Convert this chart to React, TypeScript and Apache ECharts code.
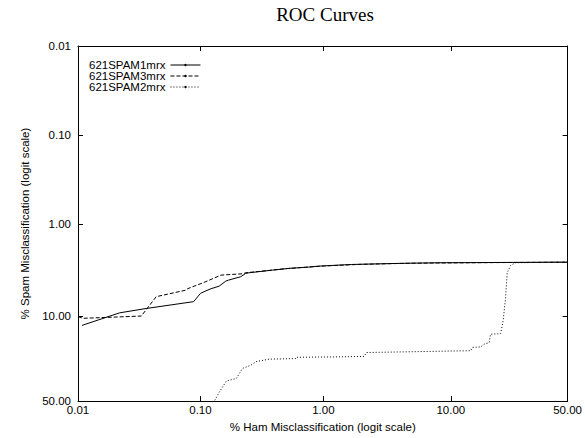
import React, { useEffect, useRef } from "react";
import * as echarts from "echarts";

const chartTitle = "ROC Curves";
const xAxisName = "% Ham Misclassification (logit scale)";
const yAxisName = "% Spam Misclassification (logit scale)";
const tickValues = [0.01, 0.1, 1, 10, 50];
const axisMinPct = 0.01;
const axisMaxPct = 50;
const seriesNames = ["621SPAM1mrx", "621SPAM3mrx", "621SPAM2mrx"];

// [% ham misclassification, % spam misclassification]
const spam1 = [
  [0.0108, 12.3], [0.0219, 9.2], [0.0361, 8.3], [0.0879, 7.05], [0.1, 5.77],
  [0.107, 5.53], [0.122, 5.14], [0.142, 4.83], [0.161, 4.26], [0.169, 4.16],
  [0.213, 3.82], [0.234, 3.52], [0.249, 3.46], [0.385, 3.24], [0.526, 3.1],
  [0.76, 3.0], [0.91, 2.93], [1.68, 2.81], [3.72, 2.74], [8.0, 2.69], [50, 2.65],
];
const spam3 = [
  [0.01, 10.06], [0.011, 10.46], [0.0329, 9.92], [0.0435, 6.25], [0.0763, 5.32],
  [0.0786, 5.14], [0.107, 4.4], [0.147, 3.67], [0.22, 3.55], [0.234, 3.46],
  [0.3, 3.35], [0.5, 3.12], [1.0, 2.92], [2.0, 2.8], [5.0, 2.72], [20, 2.68], [50, 2.65],
];
const spam2 = [
  [0.131, 49.5], [0.142, 44.4], [0.163, 37.2], [0.196, 35.8], [0.22, 30.0],
  [0.257, 28.3], [0.285, 26.4], [0.362, 25.2], [0.596, 24.9], [0.6, 24.3],
  [1.32, 24.1], [2.13, 23.9], [2.22, 22.1], [13.9, 21.3], [14.3, 19.9],
  [16.3, 19.7], [17.2, 18.6], [18.6, 18.0], [19.0, 15.0], [22.1, 14.8],
  [22.9, 11.1], [23.7, 6.67], [24.3, 3.46], [25.5, 2.88], [27.3, 2.69],
  [45, 2.65], [50, 2.65],
];

const logit = (p: number) => Math.log(p / (100 - p));
const unlogit = (v: number) => 100 / (1 + Math.exp(-v));

const FONT = "Liberation Sans, Arial, Helvetica, sans-serif";
const FS = 11.5;

export default function App() {
  const ref = useRef<HTMLDivElement>(null);
  useEffect(() => {
    if (!ref.current) return;
    const chart = echarts.init(ref.current, undefined, { renderer: "svg" });
    const ticks = tickValues.map(logit);
    const minV = logit(axisMinPct);
    const maxV = logit(axisMaxPct);
    const axisLineStyle = { show: true, onZero: false, lineStyle: { color: "#000", width: 1 } };
    const baseAxis = {
      type: "value" as const,
      min: minV,
      max: maxV,
      splitLine: { show: false },
      axisLine: axisLineStyle,
      axisTick: { show: true, inside: true, length: 5, customValues: ticks, lineStyle: { color: "#000" } },
    };
    const toData = (arr: number[][]) => arr.map(([x, y]) => [logit(x), logit(y)]);
    const mkSeries = (name: string, arr: number[][], type: any) => ({
      name,
      type: "line",
      data: toData(arr),
      xAxisIndex: 0,
      yAxisIndex: 0,
      symbol: "circle",
      symbolSize: 1.5,
      showSymbol: false,
      lineStyle: { color: "#000", width: 1, type },
      itemStyle: { color: "#000" },
      clip: true,
    });
    chart.setOption({
      animation: false,
      title: {
        text: chartTitle,
        left: 320,
        textAlign: "center",
        top: 0,
        textStyle: { fontFamily: "Liberation Serif, Times New Roman, serif", fontSize: 19, fontWeight: "normal", color: "#000" },
      },
      grid: { left: 78, right: 14, top: 46, bottom: 36 },
      legend: {
        orient: "vertical",
        left: 84,
        top: 54,
        align: "right",
        itemWidth: 30,
        itemHeight: 3,
        itemGap: -1,
        lineStyle: { width: 1 },
        textStyle: { fontFamily: FONT, fontSize: FS, lineHeight: 10.5, color: "#000", padding: [0, 0, 0, 0] },
        data: seriesNames,
      },
      xAxis: [
        {
          ...baseAxis,
          position: "bottom",
          name: xAxisName,
          nameLocation: "middle",
          nameGap: 10,
          nameTextStyle: { fontFamily: FONT, fontSize: FS, color: "#000" },
          axisLabel: {
            customValues: ticks,
            formatter: (v: number) => unlogit(v).toFixed(2),
            fontFamily: FONT,
            fontSize: FS,
            color: "#000",
            margin: 3,
          },
        },
        { ...baseAxis, position: "top", axisLabel: { show: false } },
      ],
      yAxis: [
        {
          ...baseAxis,
          inverse: true,
          position: "left",
          name: yAxisName,
          nameLocation: "middle",
          nameGap: 47,
          nameTextStyle: { fontFamily: FONT, fontSize: FS, color: "#000" },
          axisLabel: {
            customValues: ticks,
            formatter: (v: number) => unlogit(v).toFixed(2),
            fontFamily: FONT,
            fontSize: FS,
            color: "#000",
            margin: 7,
          },
        },
        { ...baseAxis, inverse: true, position: "right", axisLabel: { show: false } },
      ],
      series: [
        mkSeries(seriesNames[0], spam1, "solid"),
        mkSeries(seriesNames[1], spam3, [4, 2]),
        mkSeries(seriesNames[2], spam2, [1, 2]),
      ],
    });
    return () => chart.dispose();
  }, []);
  return (
    <div
      ref={ref}
      style={{ position: "fixed", left: 0, top: 0, width: 585, height: 438, background: "#fff" }}
    />
  );
}
